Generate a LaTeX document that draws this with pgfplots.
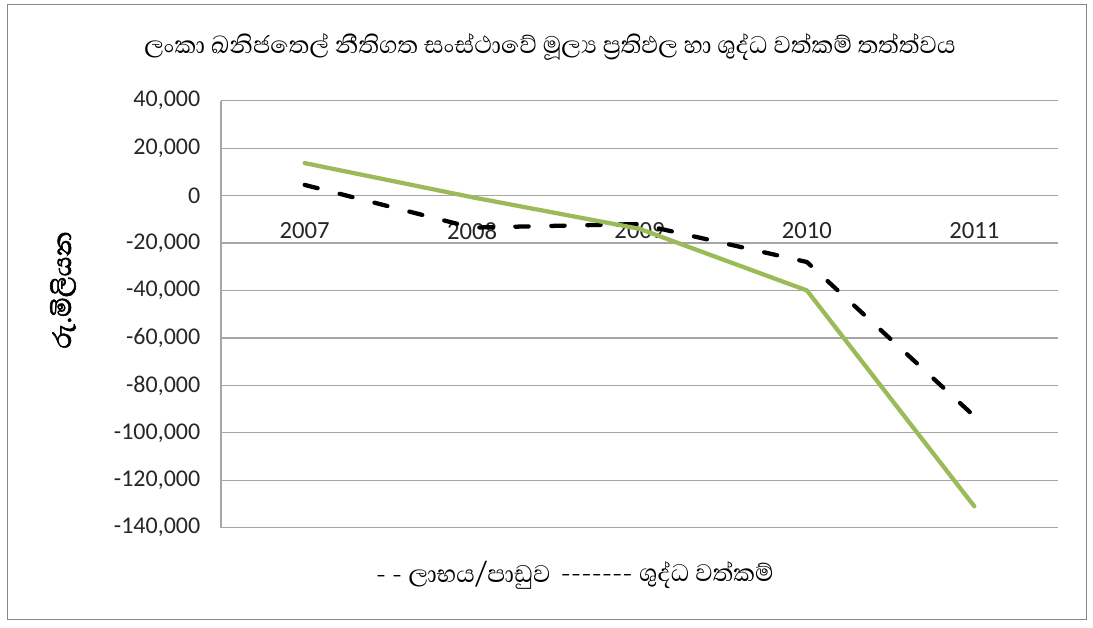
\documentclass[border=0pt]{standalone}
\usepackage{fontspec}
\usepackage{pgfplots}
\pgfplotsset{compat=1.18}
\setmainfont{Carlito}
\newfontfamily\sinhala[Script=Sinhala]{Abhaya Libre}
\newfontfamily\sinhalab[Script=Sinhala, FakeBold=1.8]{Abhaya Libre}
\definecolor{gridgray}{HTML}{A6A6A6}
\definecolor{olivegreen}{HTML}{9BBB59}
\definecolor{framegray}{HTML}{888888}
\begin{document}
\begin{tikzpicture}
\useasboundingbox (0,0) rectangle (819.75pt,471pt);
\draw[framegray, line width=0.75pt] (5.25pt,6pt) rectangle (814.5pt,467.25pt);
\begin{axis}[
  at={(165.75pt,75.225pt)}, anchor=south west,
  scale only axis, width=627.75pt, height=320.25pt,
  xmin=-0.5, xmax=4.5, ymin=-140000, ymax=40000,
  axis x line=middle, axis y line=left,
  axis line style={draw=gridgray, line width=0.9pt, -},
  hide obscured x ticks=false, hide obscured y ticks=false,
  xtick={0,1,2,3,4}, xticklabels={2007,2008,2009,2010,2011},
  ytick={-140000,-120000,-100000,-80000,-60000,-40000,-20000,0,20000,40000},
  yticklabels={{-140,000},{-120,000},{-100,000},{-80,000},{-60,000},{-40,000},{-20,000},{0},{20,000},{40,000}},
  scaled y ticks=false,
  major tick length=0pt,
  ymajorgrids, grid style={draw=gridgray, line width=0.9pt},
  tick label style={font=\fontsize{18}{21}\selectfont, text=black!85},
  yticklabel style={anchor=east, xshift=-12pt},
  xticklabel style={anchor=north, yshift=-17pt, font=\fontsize{18.5}{21}\selectfont},
  legend style={at={(0.423,-0.106)}, anchor=center, draw=none, fill=none,
    legend columns=2, font=\sinhala\fontsize{23}{27}\selectfont,
    /tikz/every even column/.append style={column sep=4pt}},
  legend cell align=left,
]
\addplot[black, line width=3.2pt, line cap=round, line join=round, dash pattern=on 10pt off 17pt,
  legend image code/.code={}]
  coordinates {(0,4500) (1,-13500) (2,-12000) (3,-28000) (4,-93000)};
\addlegendentry{- - ලාභය/පාඩුව}
\addplot[olivegreen, line width=3.2pt, line cap=round, line join=round,
  legend image code/.code={}]
  coordinates {(0,13700) (1,-700) (2,-14000) (3,-40000) (4,-131000)};
\addlegendentry{------- ශුද්ධ වත්කම්}
\end{axis}
\node[font=\sinhala\fontsize{23}{27}\selectfont] at (412.5pt,435.75pt)
  {ලංකා ඛනිජතෙල් නීතිගත සංස්ථාවේ මූල්^^^^200dය ප්^^^^200dරතිඵල හා ශුද්ධ වත්කම් තත්ත්වය};
\node[font=\sinhalab\fontsize{24.5}{28}\selectfont, rotate=90] at (47.25pt,253.5pt)
  {රු.මිලියන};
\end{tikzpicture}
\end{document}
